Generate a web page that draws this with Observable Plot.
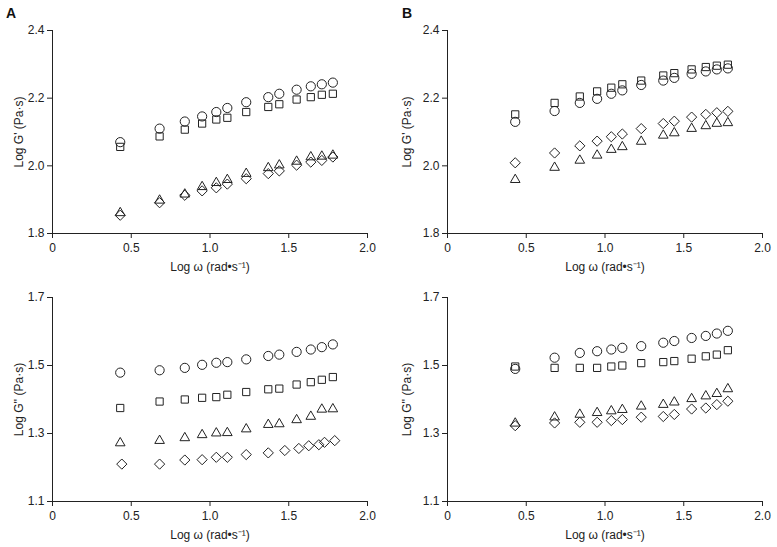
<!DOCTYPE html>
<html>
<head>
<meta charset="utf-8">
<script src="https://cdn.jsdelivr.net/npm/d3@7"></script>
<script src="https://cdn.jsdelivr.net/npm/@observablehq/plot@0.6"></script>
<style>
  body { margin: 0; background: #fff; }
  #wrap { position: relative; width: 777px; height: 547px; font-family: "Liberation Sans", Arial, sans-serif; background: #fff; }
  .panel { position: absolute; }
  #wrap svg text { font-size: 12px; }
  .tag { position: absolute; font-weight: bold; font-size: 14px; color: #111; z-index: 5; }
</style>
</head>
<body>
<div id="wrap">
  <div class="tag" style="left:6px;top:5px;">A</div>
  <div class="tag" style="left:402px;top:5px;">B</div>
</div>
<script>
// Log ω (rad·s⁻¹) measurement points
const logOmega = [0.43, 0.68, 0.84, 0.95, 1.04, 1.11, 1.23, 1.37, 1.44, 1.55, 1.64, 1.71, 1.78];
const logOmegaA2diamond = [0.44, 0.68, 0.84, 0.95, 1.04, 1.11, 1.23, 1.37, 1.475, 1.564, 1.627, 1.691, 1.727, 1.792];

const xTicks = [0, 0.5, 1.0, 1.5, 2.0];
const yTicksTop = [1.8, 2.0, 2.2, 2.4];
const yTicksBottom = [1.1, 1.3, 1.5, 1.7];

// Panel A, Log G'
const A_Gp_circle   = [2.070, 2.110, 2.131, 2.146, 2.159, 2.171, 2.188, 2.203, 2.213, 2.225, 2.235, 2.241, 2.246];
const A_Gp_square   = [2.056, 2.087, 2.107, 2.125, 2.137, 2.142, 2.159, 2.174, 2.182, 2.196, 2.203, 2.210, 2.213];
const A_Gp_triangle = [1.861, 1.898, 1.916, 1.938, 1.950, 1.959, 1.977, 1.994, 2.002, 2.013, 2.026, 2.028, 2.031];
const A_Gp_diamond  = [1.854, 1.891, 1.913, 1.926, 1.935, 1.946, 1.962, 1.977, 1.985, 2.002, 2.011, 2.016, 2.026];

// Panel B, Log G'
const B_Gp_circle   = [2.130, 2.162, 2.186, 2.198, 2.213, 2.223, 2.239, 2.252, 2.260, 2.272, 2.279, 2.285, 2.288];
const B_Gp_square   = [2.152, 2.186, 2.205, 2.220, 2.231, 2.241, 2.252, 2.267, 2.274, 2.285, 2.292, 2.296, 2.299];
const B_Gp_triangle = [1.959, 1.995, 2.016, 2.031, 2.048, 2.056, 2.072, 2.090, 2.097, 2.110, 2.118, 2.125, 2.127];
const B_Gp_diamond  = [2.009, 2.038, 2.059, 2.073, 2.086, 2.094, 2.110, 2.125, 2.132, 2.144, 2.152, 2.157, 2.161];

// Panel A, Log G''
const A_Gpp_circle   = [1.479, 1.486, 1.493, 1.502, 1.508, 1.510, 1.518, 1.528, 1.532, 1.540, 1.547, 1.554, 1.562];
const A_Gpp_square   = [1.375, 1.394, 1.400, 1.405, 1.407, 1.414, 1.422, 1.430, 1.432, 1.444, 1.451, 1.458, 1.466];
const A_Gpp_triangle = [1.272, 1.279, 1.287, 1.296, 1.301, 1.302, 1.313, 1.326, 1.328, 1.340, 1.350, 1.371, 1.372];
const A_Gpp_diamond  = [1.210, 1.210, 1.222, 1.223, 1.230, 1.230, 1.238, 1.243, 1.250, 1.256, 1.264, 1.267, 1.274, 1.279];

// Panel B, Log G''
const B_Gpp_circle   = [1.490, 1.523, 1.537, 1.542, 1.547, 1.552, 1.557, 1.567, 1.572, 1.581, 1.587, 1.594, 1.602];
const B_Gpp_square   = [1.497, 1.493, 1.493, 1.493, 1.497, 1.500, 1.507, 1.510, 1.513, 1.520, 1.527, 1.532, 1.545];
const B_Gpp_triangle = [1.330, 1.348, 1.356, 1.361, 1.366, 1.370, 1.380, 1.385, 1.392, 1.402, 1.410, 1.417, 1.431];
const B_Gpp_diamond  = [1.323, 1.331, 1.333, 1.333, 1.338, 1.341, 1.348, 1.350, 1.356, 1.372, 1.375, 1.385, 1.395];

const seriesKeys = ["S1", "S2", "S3", "S4"];           // circle, square, triangle, diamond
const seriesSymbols = ["circle", "square2", "triangle2", "diamond2"];

function rows(xs, ys, key) {
  return ys.map((y, i) => ({x: xs[i], y, key}));
}

function panel(series, opts) {
  const data = series.flatMap(s => rows(s.x || logOmega, s.y, s.key));
  const fmtX = d => d === 0 ? "0" : d.toFixed(1);
  const fmtY = d => d.toFixed(1);
  return Plot.plot({
    width: opts.width,
    height: opts.height,
    marginLeft: opts.ml,
    marginRight: opts.mr,
    marginTop: opts.mt,
    marginBottom: opts.mb,
    style: {fontFamily: "'Liberation Sans', Arial, sans-serif", fontSize: "12px", color: "#222", background: "transparent", overflow: "visible"},
    x: {domain: [0, 2.0]},
    y: {domain: opts.yDomain},
    symbol: {domain: seriesKeys, range: seriesSymbols},
    marks: [
      Plot.ruleX([0], {stroke: "#222"}),
      Plot.ruleY([opts.yDomain[0]], {stroke: "#222"}),
      Plot.axisX({ticks: xTicks, tickFormat: fmtX, tickSize: 5, tickPadding: 5,
        label: "Log ω (rad•s⁻¹)", labelAnchor: "center", labelArrow: "none", labelOffset: 37}),
      Plot.axisY({ticks: opts.yTicks, tickFormat: fmtY, tickSize: 5, tickPadding: 3,
        label: opts.yLabel, labelAnchor: "center", labelArrow: "none", labelOffset: opts.ylo}),
      Plot.dot(data, {x: "x", y: "y", symbol: "key", r: 4.6, stroke: "#222", strokeWidth: 1, fill: "none"})
    ]
  });
}

const wrap = document.getElementById("wrap");
function place(node, left, top) {
  node.classList.add("panel");
  node.style.left = left + "px";
  node.style.top = top + "px";
  wrap.appendChild(node);
}

place(panel([
  {key: "S1", y: A_Gp_circle},
  {key: "S2", y: A_Gp_square},
  {key: "S3", y: A_Gp_triangle},
  {key: "S4", y: A_Gp_diamond}
], {width: 390, height: 280, ml: 52, mr: 23, mt: 30, mb: 47, yDomain: [1.8, 2.4], yTicks: yTicksTop, yLabel: "Log G' (Pa·s)", ylo: 38}), 0, 0);

place(panel([
  {key: "S1", y: B_Gp_circle},
  {key: "S2", y: B_Gp_square},
  {key: "S3", y: B_Gp_triangle},
  {key: "S4", y: B_Gp_diamond}
], {width: 387, height: 280, ml: 57, mr: 15, mt: 30, mb: 47, yDomain: [1.8, 2.4], yTicks: yTicksTop, yLabel: "Log G' (Pa·s)", ylo: 45}), 390, 0);

place(panel([
  {key: "S1", y: A_Gpp_circle},
  {key: "S2", y: A_Gpp_square},
  {key: "S3", y: A_Gpp_triangle},
  {key: "S4", x: logOmegaA2diamond, y: A_Gpp_diamond}
], {width: 390, height: 267, ml: 52, mr: 23, mt: 17, mb: 46, yDomain: [1.1, 1.7], yTicks: yTicksBottom, yLabel: "Log G'' (Pa·s)", ylo: 38}), 0, 280);

place(panel([
  {key: "S1", y: B_Gpp_circle},
  {key: "S2", y: B_Gpp_square},
  {key: "S3", y: B_Gpp_triangle},
  {key: "S4", y: B_Gpp_diamond}
], {width: 387, height: 267, ml: 57, mr: 15, mt: 17, mb: 46, yDomain: [1.1, 1.7], yTicks: yTicksBottom, yLabel: "Log G'' (Pa·s)", ylo: 45}), 390, 280);
</script>
</body>
</html>
